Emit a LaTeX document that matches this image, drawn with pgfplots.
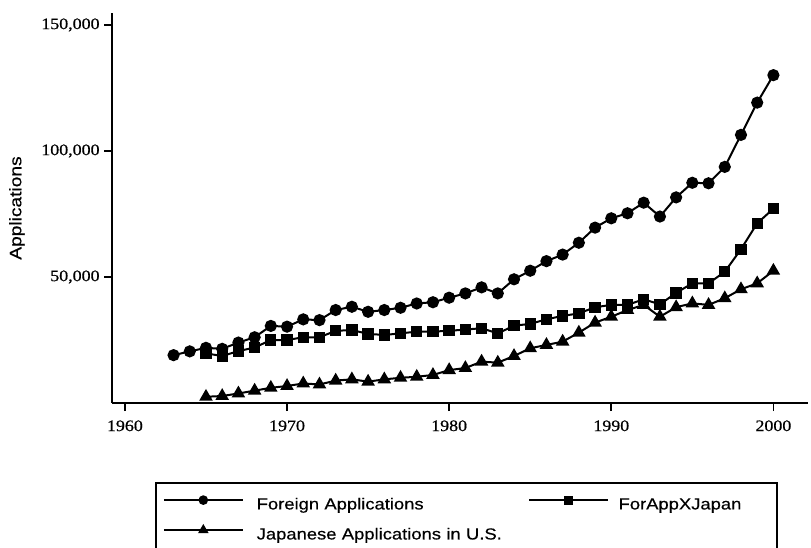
\documentclass[border=0pt]{standalone}
\usepackage{fontspec}
\setmainfont{Liberation Serif}[FakeStretch=1.12, FakeBold=0.6]
\setsansfont{Liberation Sans}[FakeStretch=1.15, FakeBold=0.4]
\usepackage{pgfplots}
\usepackage{pgfplotstable}
\pgfplotsset{compat=1.18}

\pgfplotstableread{
year val
1963 19000
1964 20500
1965 21900
1966 21500
1967 24000
1968 26100
1969 30600
1970 30300
1971 33200
1972 32900
1973 36900
1974 38200
1975 36200
1976 36900
1977 37800
1978 39500
1979 40000
1980 41800
1981 43500
1982 45900
1983 43500
1984 49100
1985 52500
1986 56300
1987 58900
1988 63600
1989 69600
1990 73300
1991 75300
1992 79500
1993 74000
1994 81600
1995 87400
1996 87200
1997 93700
1998 106400
1999 119200
2000 130100
}\foreigntab

\pgfplotstableread{
year val
1965 19690
1966 18670
1967 20610
1968 22030
1969 24990
1970 24990
1971 26100
1972 26100
1973 28650
1974 28960
1975 27430
1976 27020
1977 27630
1978 28350
1979 28350
1980 28650
1981 29160
1982 29670
1983 27630
1984 30690
1985 31400
1986 33230
1987 34560
1988 35580
1989 38020
1990 38940
1991 38940
1992 41180
1993 39140
1994 43720
1995 47490
1996 47490
1997 52070
1998 61030
1999 71320
2000 77120
}\forjapantab

\pgfplotstableread{
year val
1965 2480
1966 2790
1967 3800
1968 4920
1969 6040
1970 6760
1971 7770
1972 7370
1973 8900
1974 9400
1975 8490
1976 9400
1977 10020
1978 10420
1979 11140
1980 13070
1981 13890
1982 16430
1983 16020
1984 18670
1985 21730
1986 23050
1987 24370
1988 27940
1989 31910
1990 34250
1991 36900
1992 38940
1993 34250
1994 38020
1995 39550
1996 38940
1997 41580
1998 45150
1999 47490
2000 52480
}\japanesetab

\begin{document}
\begin{tikzpicture}
\begin{axis}[
  scale only axis,
  width=521.7pt, height=292.5pt,
  xmin=1959.22, xmax=2002.13,
  ymin=0, ymax=154760,
  axis lines=left,
  axis line style={-, line width=1.4pt},
  tick align=outside,
  major tick length=6pt,
  tick style={line width=1.2pt, black},
  scaled x ticks=false,
  scaled y ticks=false,
  xtick={1960,1970,1980,1990,2000},
  ytick={50000,100000,150000},
  xticklabels={1960,1970,1980,1990,2000},
  yticklabels={{50,000},{100,000},{150,000}},
  xticklabel style={font=\fontsize{12}{14}\selectfont, yshift=-3.5pt},
  yticklabel style={font=\fontsize{12}{14}\selectfont},
  ylabel={Applications},
  ylabel style={at={(axis description cs:-0.137,0.5)}, anchor=center,
    font=\sffamily\fontsize{12.5}{14}\selectfont},
  clip=false,
  legend columns=2,
  legend cell align=left,
  legend style={draw=none, fill=none, inner sep=0pt,
    at={(axis description cs:0.0729,-0.2378)}, anchor=north west,
    row sep=9pt,
    nodes={inner sep=0pt, text height=9pt, text depth=3pt, text width=203.8pt, align=left,
      font=\sffamily\fontsize{12}{14}\selectfont},
    /tikz/column 1/.style={column sep=10pt},
    /tikz/column 2/.style={column sep=0pt},
    /tikz/column 3/.style={column sep=7.5pt}},
  legend image code/.code={\draw[mark repeat=2,mark phase=2,#1,line width=1.1pt,
     /tikz/every mark/.append style={scale=0.8}]
     plot coordinates {(0pt,4pt) (29.5pt,4pt) (59pt,4pt)};},
]
\addplot[black, line width=1.5pt, mark=*, mark size=3.8pt, mark options={fill=black, solid}]
  table[x=year, y=val]{\foreigntab};
\addlegendentry{Foreign Applications}
\addplot[black, line width=1.5pt, mark=square*, mark size=3.5pt, mark options={fill=black, solid}]
  table[x=year, y=val]{\forjapantab};
\addlegendentry{ForAppXJapan}
\addplot[black, line width=1.5pt, mark=triangle*, mark size=4.4pt, mark options={fill=black, solid}]
  table[x=year, y=val]{\japanesetab};
\addlegendentry{Japanese Applications in U.S.}
\end{axis}
\draw[line width=1.2pt] (32.8pt,-130pt) -- (32.8pt,-60pt) -- (498.3pt,-60pt) -- (498.3pt,-130pt);
\pgfresetboundingbox
\useasboundingbox (-84.2pt,-108pt) rectangle (524pt,302.25pt);
\end{tikzpicture}
\end{document}
